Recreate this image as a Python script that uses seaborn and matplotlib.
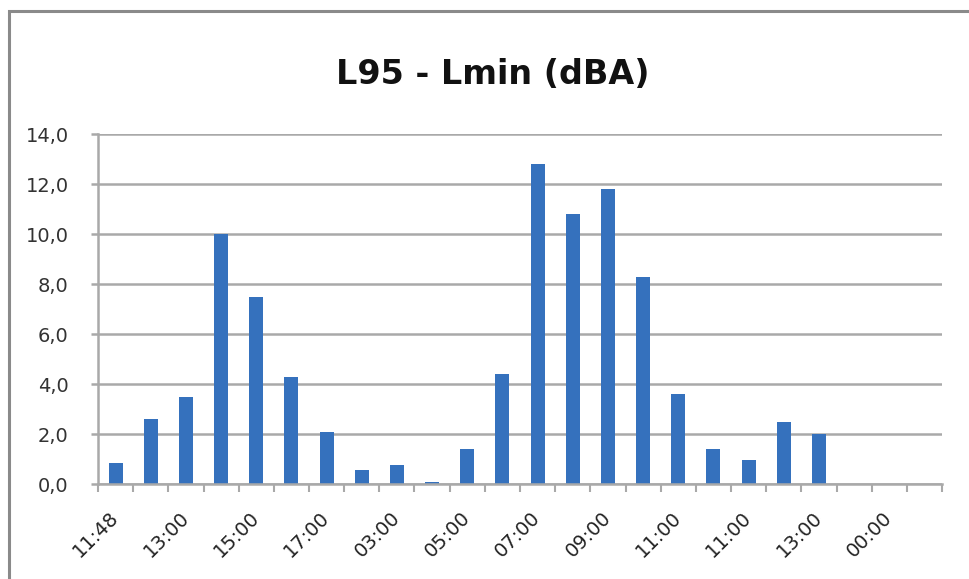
import matplotlib
matplotlib.use("Agg")
import matplotlib.pyplot as plt
import seaborn as sns
import pandas as pd
from matplotlib.patches import Rectangle
from matplotlib.ticker import FuncFormatter, FixedLocator

sns.set_theme(style="white")
plt.rcParams['font.family'] = ['DejaVu Sans']

# ---- data ----
slots = list(range(24))
values = [0.85, 2.6, 3.5, 10.0, 7.5, 4.3, 2.1, 0.55, 0.75, 0.1, 1.4, 4.4,
          12.8, 10.8, 11.8, 8.3, 3.6, 1.4, 0.95, 2.5, 2.0, 0.0, 0.0, 0.0]
shown_labels = ["11:48", "13:00", "15:00", "17:00", "03:00", "05:00",
                "07:00", "09:00", "11:00", "11:00", "13:00", "00:00"]
title = "L95 - Lmin (dBA)"
y_ticks = [0, 2, 4, 6, 8, 10, 12, 14]

df = pd.DataFrame({"slot": slots, "value": values})

W, H = 969, 579
fig = plt.figure(figsize=(W / 100, H / 100), dpi=100)
ax = fig.add_axes([98 / W, 1 - 484 / H, (942 - 98) / W, (484 - 134) / H])

sns.barplot(data=df, x="slot", y="value", ax=ax, color="#3571BD",
            width=0.4, saturation=1, edgecolor="none")

ax.set_xlim(-0.5, 23.5)
ax.set_ylim(0, 14)
ax.set_yticks(y_ticks)
ax.yaxis.set_major_formatter(FuncFormatter(lambda v, p: f"{v:.1f}".replace(".", ",")))
ax.grid(axis="y", color="#a9a9a9", linewidth=1.8)
ax.set_axisbelow(True)

# labels at every other category
ax.set_xticks(slots[::2])
ax.set_xticklabels(shown_labels, rotation=45, ha="right", va="center",
                   rotation_mode="anchor", fontsize=14, color="#222222")
ax.tick_params(axis="x", which="major", length=0, pad=22)
ax.xaxis.set_minor_locator(FixedLocator([s - 0.5 for s in slots] + [slots[-1] + 0.5]))
ax.tick_params(axis="x", which="minor", bottom=True, length=6, width=1.5, color="#a9a9a9")
ax.tick_params(axis="y", left=True, length=5, width=1.8, color="#a9a9a9",
               labelsize=14, labelcolor="#333333", pad=16)

for s in ["top", "right"]:
    ax.spines[s].set_visible(False)
ax.spines["left"].set_color("#a9a9a9")
ax.spines["left"].set_linewidth(1.8)
ax.spines["bottom"].set_color("#a9a9a9")
ax.spines["bottom"].set_linewidth(1.8)
ax.set_xlabel("")
ax.set_ylabel("")

fig.text(493 / W, 1 - 75 / H, title, ha="center", va="center",
         fontsize=24, fontweight="bold", color="#111111")

fig.patches.append(Rectangle((9 / W, -0.05), 1.2, 1 - 11 / H + 0.05,
                             transform=fig.transFigure, fill=False,
                             edgecolor="#8a8a8a", linewidth=2.2))

fig.savefig("out.png", dpi=100, facecolor="white")
